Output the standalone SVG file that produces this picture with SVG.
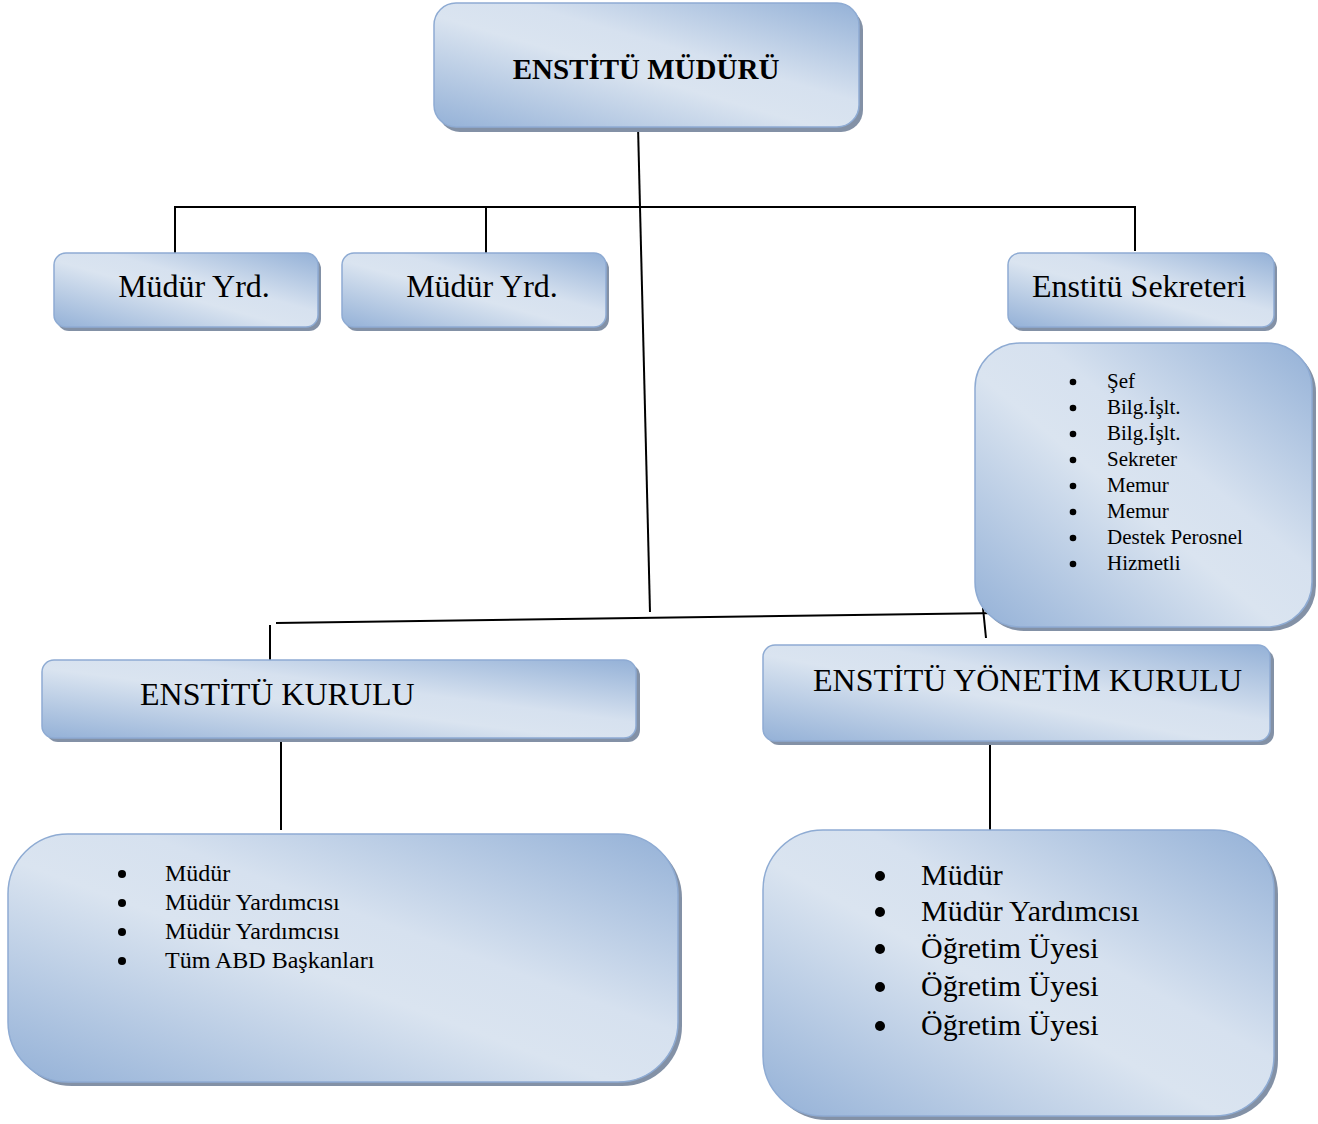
<svg xmlns="http://www.w3.org/2000/svg" width="1318" height="1124" viewBox="0 0 1318 1124">
<style>
.box{fill:url(#g);stroke:#8eabd3;stroke-width:1.5}
.sh{fill:#8391a6}
.t{font-family:"Liberation Serif","Times New Roman",serif;fill:#000}
.dot{fill:#000}
.ln{stroke:#000;stroke-width:2;fill:none}
</style>
<defs>
<linearGradient id="g" x1="0" y1="1" x2="1" y2="0">
<stop offset="0" stop-color="#94b1d7"/>
<stop offset="0.45" stop-color="#dae4f0"/>
<stop offset="0.6" stop-color="#d6e1ef"/>
<stop offset="1" stop-color="#94b1d7"/>
</linearGradient>
</defs>
<rect width="1318" height="1124" fill="#fff"/>
<g id="connectors">
<line class="ln" x1="638" y1="126" x2="650" y2="612"/>
<polyline class="ln" points="175,253 175,207 1135,207 1135,251"/>
<line class="ln" x1="486" y1="207" x2="486" y2="253"/>
<line class="ln" x1="276" y1="623" x2="1000" y2="613" stroke-width="2.5"/>
<line class="ln" x1="270" y1="625" x2="270" y2="661"/>
<line class="ln" x1="983" y1="608" x2="986" y2="638"/>
<line class="ln" x1="281" y1="740" x2="281" y2="830"/>
<line class="ln" x1="990" y1="745" x2="990" y2="833"/>
</g>
<g id="n-mudur">
<rect class="sh" x="438" y="8" width="425" height="124" rx="22"/>
<rect class="box" x="434" y="3" width="425" height="124" rx="22"/>
<text class="t" x="646" y="79" font-size="29" font-weight="bold" text-anchor="middle">ENSTİTÜ MÜDÜRÜ</text>
</g>
<g id="n-yrd1">
<rect class="sh" x="57" y="257" width="264" height="74" rx="12"/>
<rect class="box" x="54" y="253" width="264" height="74" rx="12"/>
<text class="t" x="194" y="297" font-size="32" text-anchor="middle">Müdür Yrd.</text>
</g>
<g id="n-yrd2">
<rect class="sh" x="345" y="257" width="264" height="74" rx="12"/>
<rect class="box" x="342" y="253" width="264" height="74" rx="12"/>
<text class="t" x="482" y="297" font-size="32" text-anchor="middle">Müdür Yrd.</text>
</g>
<g id="n-sekreter">
<rect class="sh" x="1011" y="257" width="266" height="74" rx="12"/>
<rect class="box" x="1008" y="253" width="266" height="74" rx="12"/>
<text class="t" x="1139" y="297" font-size="32" text-anchor="middle">Enstitü Sekreteri</text>
</g>
<g id="n-personel">
<rect class="sh" x="979" y="347" width="337" height="284" rx="45"/>
<rect class="box" x="975" y="343" width="337" height="284" rx="45"/>
<g class="dot">
<circle cx="1073" cy="382" r="3.3"/><circle cx="1073" cy="408" r="3.3"/><circle cx="1073" cy="434" r="3.3"/><circle cx="1073" cy="460" r="3.3"/>
<circle cx="1073" cy="486" r="3.3"/><circle cx="1073" cy="512" r="3.3"/><circle cx="1073" cy="538" r="3.3"/><circle cx="1073" cy="564" r="3.3"/>
</g>
<g class="t" font-size="21">
<text x="1107" y="388">Şef</text>
<text x="1107" y="414">Bilg.İşlt.</text>
<text x="1107" y="440">Bilg.İşlt.</text>
<text x="1107" y="466">Sekreter</text>
<text x="1107" y="492">Memur</text>
<text x="1107" y="518">Memur</text>
<text x="1107" y="544">Destek Perosnel</text>
<text x="1107" y="570">Hizmetli</text>
</g>
</g>
<g id="n-kurul">
<rect class="sh" x="46" y="664" width="594" height="78" rx="12"/>
<rect class="box" x="42" y="660" width="594" height="78" rx="12"/>
<text class="t" x="140" y="705" font-size="32">ENSTİTÜ KURULU</text>
</g>
<g id="n-yonetim">
<rect class="sh" x="767" y="649" width="507" height="96" rx="12"/>
<rect class="box" x="763" y="645" width="507" height="96" rx="12"/>
<text class="t" x="813" y="691" font-size="32">ENSTİTÜ YÖNETİM KURULU</text>
</g>
<g id="n-kurul-list">
<rect class="sh" x="12" y="838" width="670" height="248" rx="60"/>
<rect class="box" x="8" y="834" width="670" height="248" rx="60"/>
<g class="dot">
<circle cx="122" cy="874" r="4"/><circle cx="122" cy="903" r="4"/><circle cx="122" cy="932" r="4"/><circle cx="122" cy="961" r="4"/>
</g>
<g class="t" font-size="24">
<text x="165" y="881">Müdür</text>
<text x="165" y="910">Müdür Yardımcısı</text>
<text x="165" y="939">Müdür Yardımcısı</text>
<text x="165" y="968">Tüm ABD Başkanları</text>
</g>
</g>
<g id="n-yonetim-list">
<rect class="sh" x="767" y="834" width="511" height="286" rx="60"/>
<rect class="box" x="763" y="830" width="511" height="286" rx="60"/>
<g class="dot">
<circle cx="880" cy="876" r="5"/><circle cx="880" cy="912" r="5"/><circle cx="880" cy="949" r="5"/><circle cx="880" cy="987" r="5"/><circle cx="880" cy="1026" r="5"/>
</g>
<g class="t" font-size="30">
<text x="921" y="885">Müdür</text>
<text x="921" y="921">Müdür Yardımcısı</text>
<text x="921" y="958">Öğretim Üyesi</text>
<text x="921" y="996">Öğretim Üyesi</text>
<text x="921" y="1035">Öğretim Üyesi</text>
</g>
</g>
</svg>
